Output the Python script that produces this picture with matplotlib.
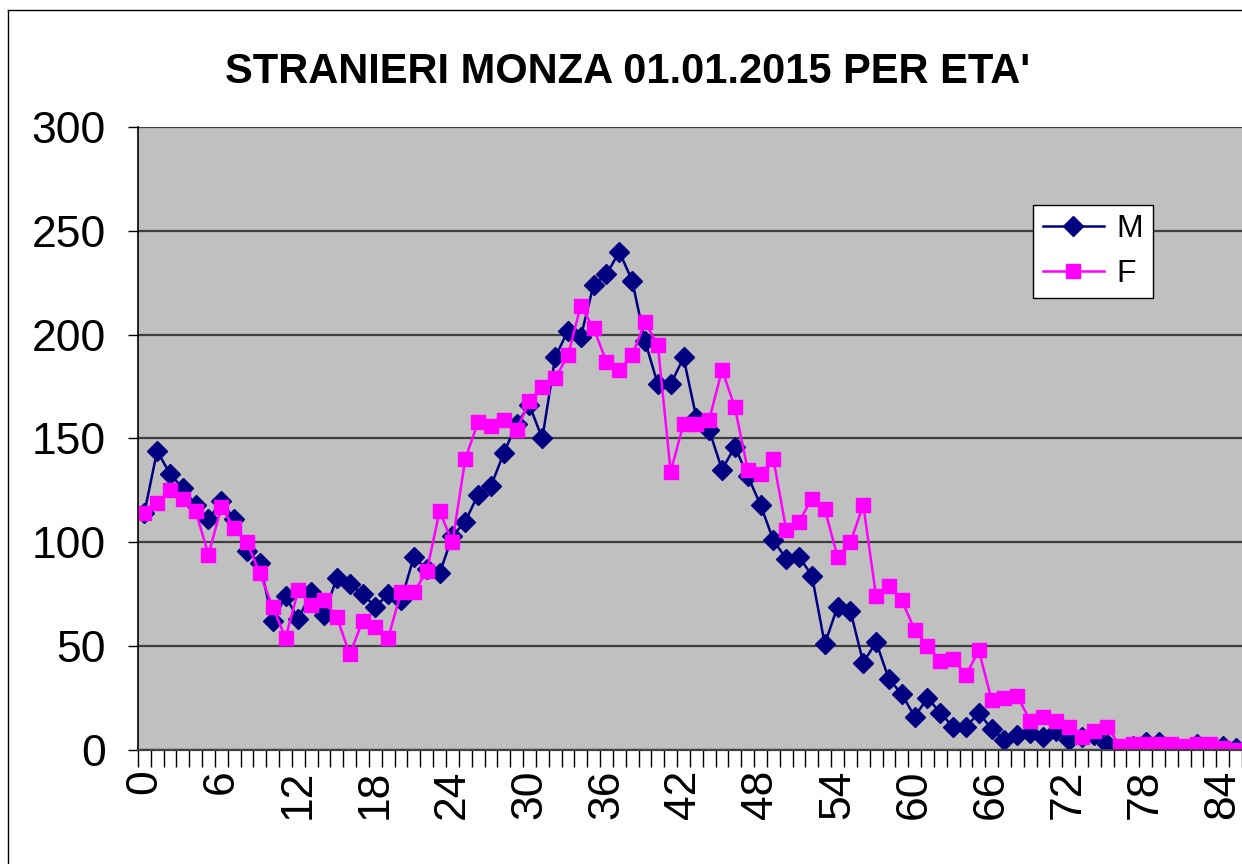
import matplotlib
matplotlib.use("Agg")
import matplotlib.pyplot as plt
import numpy as np
from matplotlib.lines import Line2D

plt.rcParams['font.family'] = ['Liberation Sans', 'DejaVu Sans']

eta = list(range(0, 86))
maschi = [114, 144, 133, 126, 118, 111, 120, 111, 96, 90,
          62, 74, 63, 76, 65, 83, 80, 75, 69, 75,
          72, 93, 87, 85, 103, 110, 123, 127, 143, 157,
          166, 150, 189, 202, 199, 224, 229, 240, 226, 197,
          176, 176, 189, 160, 154, 135, 146, 132, 118, 101,
          92, 93, 84, 51, 69, 67, 42, 52, 34, 27,
          16, 25, 18, 11, 11, 18, 10, 5, 7, 8,
          6, 9, 5, 6, 7, 3, 0, 2, 4, 4,
          1, 0, 3, 0, 2, 1]
femmine = [114, 119, 125, 121, 115, 94, 117, 107, 100, 85,
           69, 54, 77, 70, 72, 64, 46, 62, 59, 54,
           76, 76, 86, 115, 100, 140, 158, 156, 159, 154,
           168, 175, 179, 190, 214, 203, 187, 183, 190, 206,
           195, 134, 157, 157, 159, 183, 165, 135, 133, 140,
           106, 110, 121, 116, 93, 100, 118, 74, 79, 72,
           58, 50, 43, 44, 36, 48, 24, 25, 26, 14,
           16, 14, 11, 6, 9, 11, 2, 3, 3, 3,
           3, 2, 3, 3, 1, 0]
etichette_x = list(range(0, 85, 6))

fig = plt.figure(figsize=(12.42, 8.64), dpi=100)
ax = fig.add_axes([0.111, 0.132, 0.889, 0.721])
ax.set_facecolor('#c0c0c0')

ax.plot(eta, maschi, color='#000080', marker='D', markersize=10, linewidth=1.8, label='M')
ax.plot(eta, femmine, color='#ff00ff', marker='s', markersize=9.5, linewidth=1.8, label='F')

ax.set_xlim(-0.5, 85.0)
ax.set_ylim(0, 300)
ax.set_yticks(range(0, 301, 50))
ax.yaxis.grid(True, color='#404040', linewidth=1.6)
ax.set_axisbelow(True)

ax.set_xticks(etichette_x)
ax.set_xticklabels([str(v) for v in etichette_x], rotation=90, fontsize=32)
ax.set_xticks(np.arange(-0.5, 86, 1), minor=True)
ax.tick_params(axis='x', which='major', length=0, pad=14)
ax.tick_params(axis='x', which='minor', length=12, width=1, direction='out')
ax.tick_params(axis='y', labelsize=32, length=7, width=1, pad=16)

for s in ['top', 'right']:
    ax.spines[s].set_visible(False)
ax.spines['left'].set_linewidth(1.2)
ax.spines['bottom'].set_linewidth(1.6)
ax.spines['bottom'].set_color('#404040')

fig.text(0.505, 0.917, "STRANIERI MONZA 01.01.2015 PER ETA'", ha='center', va='center',
         fontsize=30, fontweight='bold')

leg = ax.legend(loc='upper left', bbox_to_anchor=(0.832, 0.763), bbox_transform=fig.transFigure,
                borderaxespad=0, fontsize=23, frameon=True, fancybox=False, edgecolor='black',
                framealpha=1, borderpad=0.3, handlelength=1.9, handletextpad=0.4,
                labelspacing=0.45)
leg.get_frame().set_linewidth(1)

# bordo del grafico
fig.add_artist(Line2D([8 / 1242, 8 / 1242], [0, 1 - 10 / 864], color='black', linewidth=1))
fig.add_artist(Line2D([8 / 1242, 1], [1 - 10 / 864, 1 - 10 / 864], color='black', linewidth=1))

fig.savefig('out.png', dpi=100)
